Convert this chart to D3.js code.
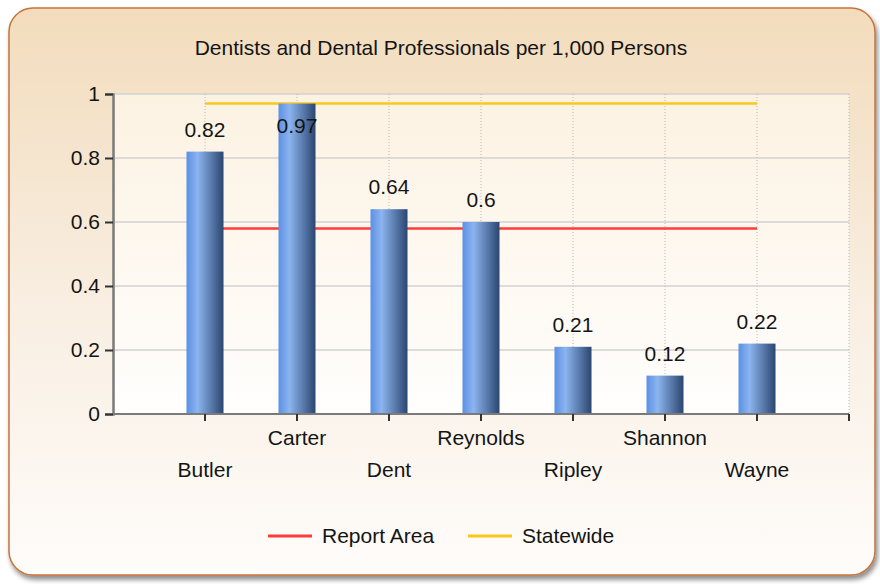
<!DOCTYPE html>
<html>
<head>
<meta charset="utf-8">
<script src="https://cdn.jsdelivr.net/npm/d3@7"></script>
<style>
  body { margin: 0; background: #ffffff; }
  text { font-family: "Liberation Sans", Arial, sans-serif; fill: #141414; }
</style>
</head>
<body>
<div id="chart"></div>
<script>
const categories = ["Butler", "Carter", "Dent", "Reynolds", "Ripley", "Shannon", "Wayne"];
const values = [0.82, 0.97, 0.64, 0.6, 0.21, 0.12, 0.22];
const reportArea = 0.58;
const statewide = 0.97;
const yTicks = [0, 0.2, 0.4, 0.6, 0.8, 1];
const legendItems = ["Report Area", "Statewide"];

const width = 880, height = 584,
    margin = {top: 94, bottom: 170, left: 113, right: 31},
    lineColors = ["#ff3b3b", "#f8c81c"],
    fontSize = "21px";

const svg = d3.select("#chart")
    .append("svg")
    .attr("width", width)
    .attr("height", height);

const defs = svg.append("defs");

const cardGrad = defs.append("linearGradient")
    .attr("id", "cardGrad").attr("x1", 0).attr("y1", 0).attr("x2", 0).attr("y2", 1);
cardGrad.append("stop").attr("offset", "0%").attr("stop-color", "#f2dcbc");
cardGrad.append("stop").attr("offset", "55%").attr("stop-color", "#f9efe3");
cardGrad.append("stop").attr("offset", "100%").attr("stop-color", "#fefcfa");

const plotGrad = defs.append("linearGradient")
    .attr("id", "plotGrad").attr("x1", 0).attr("y1", 0).attr("x2", 0).attr("y2", 1);
plotGrad.append("stop").attr("offset", "0%").attr("stop-color", "#fcf2e2");
plotGrad.append("stop").attr("offset", "100%").attr("stop-color", "#fffefd");

const barGrad = defs.append("linearGradient")
    .attr("id", "barGrad").attr("x1", 0).attr("y1", 0).attr("x2", 1).attr("y2", 0);
barGrad.append("stop").attr("offset", "0%").attr("stop-color", "#5a90e4");
barGrad.append("stop").attr("offset", "30%").attr("stop-color", "#8cb4ef");
barGrad.append("stop").attr("offset", "100%").attr("stop-color", "#2b4670");

const shadow = defs.append("filter").attr("id", "shadow")
    .attr("x", "-5%").attr("y", "-5%").attr("width", "110%").attr("height", "110%");
shadow.append("feDropShadow").attr("dx", 2).attr("dy", 4).attr("stdDeviation", 2.5)
    .attr("flood-color", "#000").attr("flood-opacity", 0.45);

// card
svg.append("rect")
    .attr("x", 9).attr("y", 8)
    .attr("width", 866).attr("height", 567)
    .attr("rx", 24).attr("ry", 24)
    .attr("fill", "url(#cardGrad)")
    .attr("stroke", "#c8733a")
    .attr("stroke-width", 1.5)
    .attr("filter", "url(#shadow)");

svg.append("text")
    .attr("x", 441).attr("y", 55)
    .attr("text-anchor", "middle")
    .style("font-size", "21px")
    .text("Dentists and Dental Professionals per 1,000 Persons");

const xScale = d3.scalePoint()
    .domain(categories)
    .range([margin.left, width - margin.right])
    .padding(1);

const yScale = d3.scaleLinear()
    .domain([0, 1])
    .range([height - margin.bottom, margin.top]);

const x0 = margin.left, x1 = width - margin.right,
    y0 = yScale(0), y1 = yScale(1);

// plot background
svg.append("rect")
    .attr("x", x0).attr("y", y1)
    .attr("width", x1 - x0).attr("height", y0 - y1)
    .attr("fill", "url(#plotGrad)");

// horizontal grid
svg.selectAll(".hgrid")
    .data(yTicks.slice(1))
    .join("line")
    .attr("class", "hgrid")
    .attr("x1", x0).attr("x2", x1)
    .attr("y1", d => yScale(d)).attr("y2", d => yScale(d))
    .attr("stroke", "#d2d2d2").attr("stroke-width", 1.5);

// vertical dotted grid
svg.selectAll(".vgrid")
    .data(categories)
    .join("line")
    .attr("class", "vgrid")
    .attr("x1", d => xScale(d)).attr("x2", d => xScale(d))
    .attr("y1", y1).attr("y2", y0)
    .attr("stroke", "#b8b8b8").attr("stroke-dasharray", "1,2");

svg.append("line")
    .attr("x1", x1).attr("x2", x1).attr("y1", y1).attr("y2", y0)
    .attr("stroke", "#b8b8b8").attr("stroke-dasharray", "1,2");

// reference lines
const refs = [reportArea, statewide];
svg.selectAll(".ref")
    .data(refs)
    .join("line")
    .attr("class", "ref")
    .attr("x1", xScale(categories[0]))
    .attr("x2", xScale(categories[categories.length - 1]))
    .attr("y1", d => yScale(d)).attr("y2", d => yScale(d))
    .attr("stroke", (d, i) => lineColors[i])
    .attr("stroke-width", 2.5);

// bars
const barW = 37;
svg.selectAll(".bar")
    .data(values)
    .join("rect")
    .attr("class", "bar")
    .attr("x", (d, i) => xScale(categories[i]) - barW / 2)
    .attr("y", d => yScale(d))
    .attr("width", barW)
    .attr("height", d => y0 - yScale(d))
    .attr("fill", "url(#barGrad)");

// value labels
svg.selectAll(".val")
    .data(values)
    .join("text")
    .attr("class", "val")
    .attr("x", (d, i) => xScale(categories[i]))
    .attr("y", d => yScale(d) - 16 < y1 + 12 ? yScale(d) + 29 : yScale(d) - 15)
    .attr("text-anchor", "middle")
    .style("font-size", fontSize)
    .text(d => d);

// y axis
const yAxis = d3.axisLeft(yScale).tickValues(yTicks).tickSize(8).tickPadding(5)
    .tickFormat(d => d);
const gy = svg.append("g")
    .attr("transform", `translate(${x0}, 0)`)
    .call(yAxis);
gy.select(".domain").attr("stroke", "#7a7a7a").attr("stroke-width", 2.5);
gy.selectAll(".tick line").attr("stroke", "#333").attr("stroke-width", 2);
gy.selectAll(".tick text").style("font-size", fontSize).attr("fill", "#141414");

// x axis
const gx = svg.append("g")
    .attr("transform", `translate(0, ${y0})`);
gx.append("line")
    .attr("x1", x0).attr("x2", x1)
    .attr("stroke", "#7a7a7a").attr("stroke-width", 2);
gx.selectAll(".xtick")
    .data(categories)
    .join("line")
    .attr("class", "xtick")
    .attr("x1", d => xScale(d)).attr("x2", d => xScale(d))
    .attr("y1", 0).attr("y2", 7)
    .attr("stroke", "#333").attr("stroke-width", 2);
gx.append("line")
    .attr("x1", x1).attr("x2", x1).attr("y1", 0).attr("y2", 7)
    .attr("stroke", "#333").attr("stroke-width", 2);
gx.selectAll(".xlabel")
    .data(categories)
    .join("text")
    .attr("class", "xlabel")
    .attr("x", d => xScale(d))
    .attr("y", (d, i) => i % 2 === 0 ? 63 : 31)
    .attr("text-anchor", "middle")
    .style("font-size", fontSize)
    .text(d => d);

// legend
const legend = svg.selectAll(".legend")
    .data(legendItems)
    .join("g")
    .attr("class", "legend")
    .attr("transform", (d, i) => `translate(${268 + i * 200}, 536)`);
legend.append("line")
    .attr("x1", 0).attr("x2", 44)
    .attr("stroke", (d, i) => lineColors[i])
    .attr("stroke-width", 3);
legend.append("text")
    .attr("x", 54).attr("y", 7)
    .style("font-size", fontSize)
    .text(d => d);
</script>
</body>
</html>
